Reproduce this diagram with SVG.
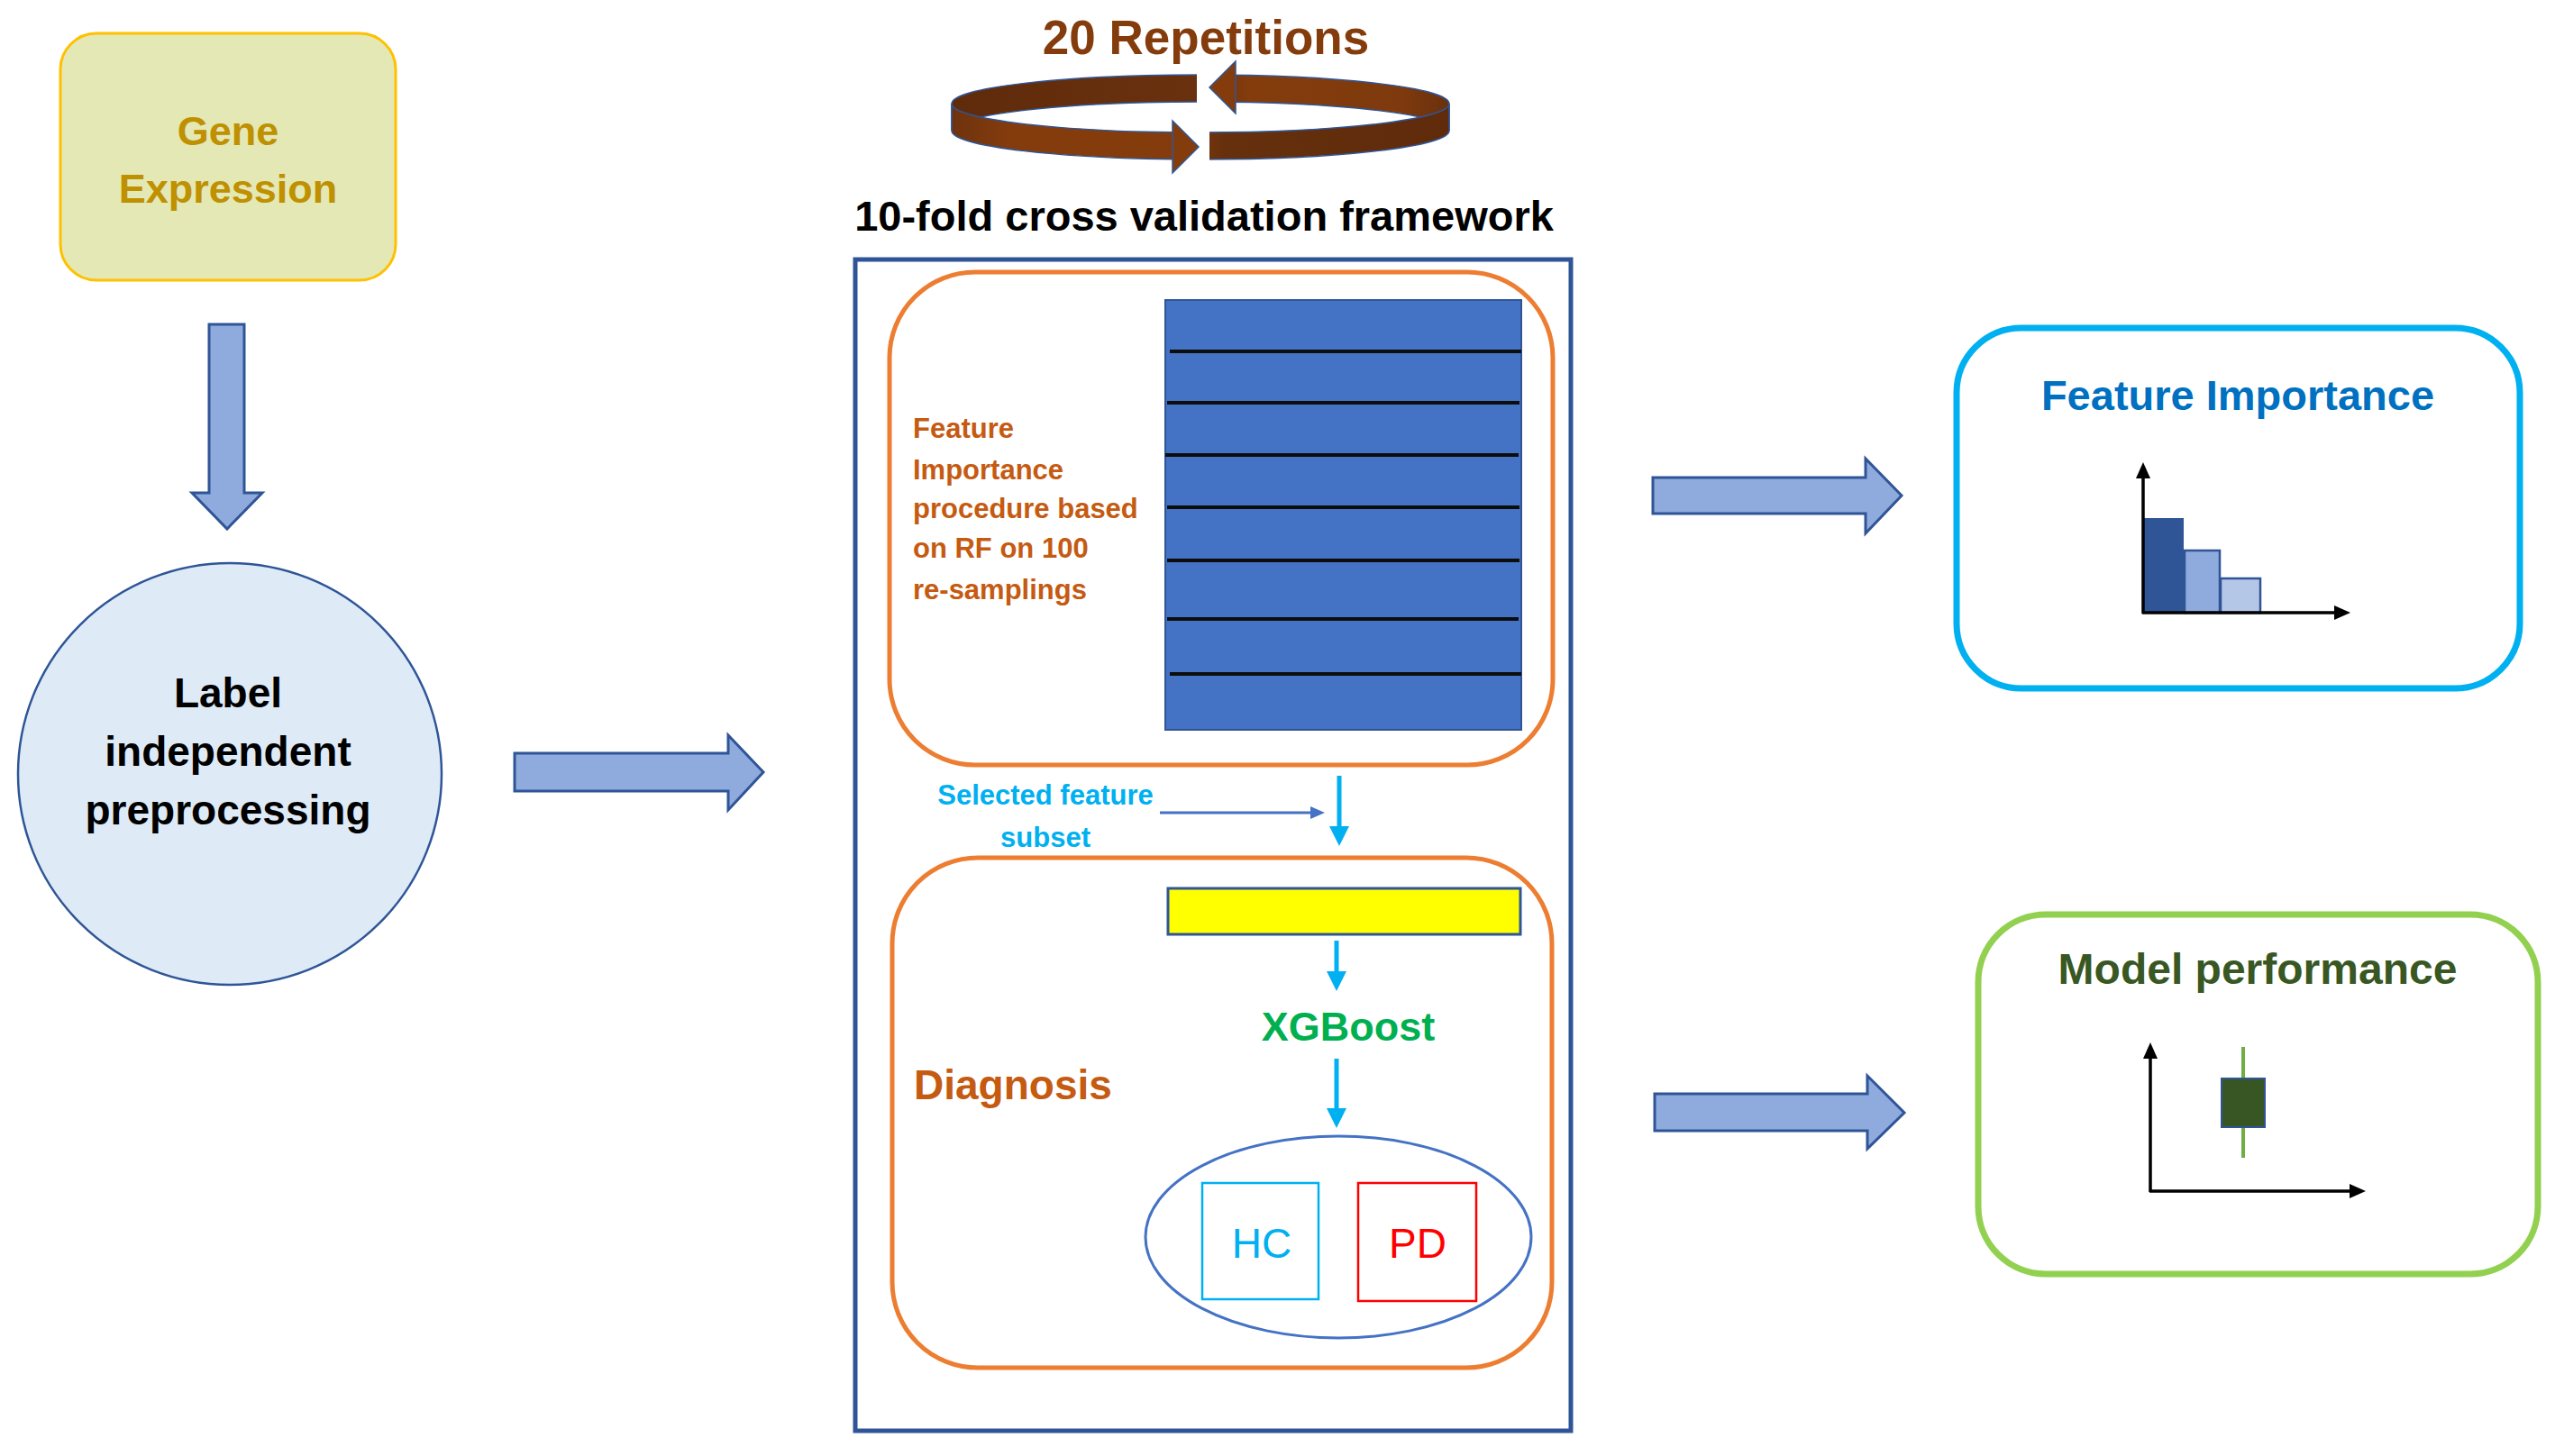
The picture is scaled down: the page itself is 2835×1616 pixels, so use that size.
<svg xmlns="http://www.w3.org/2000/svg" width="2835" height="1616" viewBox="0 0 2835 1616">
<style>
text{font-family:"Liberation Sans",Arial,sans-serif;font-weight:bold;}
.reg{font-weight:normal;}
.block{fill:#8FAADC;stroke:#2F5597;stroke-width:3;stroke-linejoin:miter;}
.cyan{stroke:#00B0F0;stroke-width:5;fill:none;}
.axis{stroke:#000;stroke-width:3.5;fill:none;}
.orange{fill:none;stroke:#ED7D31;stroke-width:5;}
.sep{stroke:#0D0D0D;stroke-width:4;}
.ring{stroke:#2F5597;stroke-width:1.5;}
</style>
<defs>
<marker id="mCyan" markerUnits="userSpaceOnUse" markerWidth="22" markerHeight="22" viewBox="0 0 22 22" refX="6" refY="11" orient="auto"><path d="M0,0 L22,11 L0,22 Z" fill="#00B0F0"/></marker>
<marker id="mBlue" markerUnits="userSpaceOnUse" markerWidth="16" markerHeight="14" viewBox="0 0 16 14" refX="4" refY="7" orient="auto"><path d="M0,0 L16,7 L0,14 Z" fill="#4472C4"/></marker>
<marker id="mBlack" markerUnits="userSpaceOnUse" markerWidth="18" markerHeight="16" viewBox="0 0 18 16" refX="4" refY="8" orient="auto"><path d="M0,0 L18,8 L0,16 Z" fill="#000"/></marker>
<linearGradient id="gBack" x1="1056" y1="0" x2="1608" y2="0" gradientUnits="userSpaceOnUse"><stop offset="0" stop-color="#5F2B0B"/><stop offset="0.5" stop-color="#6A310E"/><stop offset="0.6" stop-color="#843C0C"/><stop offset="0.9" stop-color="#7E3A0D"/><stop offset="1" stop-color="#6A310E"/></linearGradient>
<linearGradient id="gFront" x1="1056" y1="0" x2="1608" y2="0" gradientUnits="userSpaceOnUse"><stop offset="0" stop-color="#6E330E"/><stop offset="0.12" stop-color="#843C0C"/><stop offset="0.45" stop-color="#843C0C"/><stop offset="0.55" stop-color="#66300D"/><stop offset="1" stop-color="#5F2B0B"/></linearGradient>
<clipPath id="cBack"><rect x="1000" y="40" width="328" height="180"/><rect x="1371" y="40" width="300" height="180"/></clipPath>
<clipPath id="cFront"><rect x="1000" y="40" width="301" height="180"/><rect x="1342" y="40" width="330" height="180"/></clipPath>
</defs>
<rect width="2835" height="1616" fill="#fff"/>

<g id="repetitions">
<text x="1338" y="60" font-size="53" fill="#843C0C" text-anchor="middle">20 Repetitions</text>
<path class="ring" clip-path="url(#cBack)" d="M1056,115 A276,32 0 0 1 1608,115 L1608,145 A276,32 0 0 0 1056,145 Z" fill="url(#gBack)"/>
<path class="ring" clip-path="url(#cFront)" d="M1056,115 A276,32 0 0 0 1608,115 L1608,145 A276,32 0 0 1 1056,145 Z" fill="url(#gFront)"/>
<polygon class="ring" points="1371,68 1342,97 1371,126" fill="#843C0C"/>
<polygon class="ring" points="1301,134 1330,163 1301,192" fill="#843C0C"/>
</g>

<g id="gene-expression">
<rect x="67" y="37" width="372" height="274" rx="40" fill="#E4E8B4" stroke="#FFC000" stroke-width="3"/>
<text x="253" y="161" font-size="45" fill="#BF9000" text-anchor="middle">Gene</text>
<text x="253" y="225" font-size="45" fill="#BF9000" text-anchor="middle">Expression</text>
</g>

<g id="preprocessing">
<ellipse cx="255" cy="859" rx="235" ry="234" fill="#DEEBF7" stroke="#2F5597" stroke-width="2.5"/>
<text x="253" y="785" font-size="46" fill="#000" text-anchor="middle">Label</text>
<text x="253" y="850" font-size="46" fill="#000" text-anchor="middle">independent</text>
<text x="253" y="915" font-size="46" fill="#000" text-anchor="middle">preprocessing</text>
</g>

<g id="cv-framework">
<text x="1336" y="256" font-size="47" fill="#000" text-anchor="middle">10-fold cross validation framework</text>
<rect x="949" y="288" width="794" height="1300" fill="none" stroke="#2F5597" stroke-width="5"/>
</g>

<g id="feature-selection">
<rect class="orange" x="987" y="302" width="736" height="547" rx="95"/>
<rect x="1293" y="333" width="395" height="477" fill="#4472C4" stroke="#2F5597" stroke-width="2"/>
<line class="sep" x1="1298" y1="390" x2="1688" y2="390"/>
<line class="sep" x1="1295" y1="447" x2="1686" y2="447"/>
<line class="sep" x1="1293" y1="505" x2="1685" y2="505"/>
<line class="sep" x1="1295" y1="563" x2="1686" y2="563"/>
<line class="sep" x1="1295" y1="622" x2="1686" y2="622"/>
<line class="sep" x1="1295" y1="687" x2="1685" y2="687"/>
<line class="sep" x1="1298" y1="748" x2="1688" y2="748"/>
<g font-size="31" fill="#C55A11">
<text x="1013" y="486">Feature</text>
<text x="1013" y="532">Importance</text>
<text x="1013" y="575">procedure based</text>
<text x="1013" y="619">on RF on 100</text>
<text x="1013" y="665">re-samplings</text>
</g>
</g>

<g id="selected-subset">
<text x="1160" y="893" font-size="31" fill="#00B0F0" text-anchor="middle">Selected feature</text>
<text x="1160" y="940" font-size="31" fill="#00B0F0" text-anchor="middle">subset</text>
</g>

<g id="diagnosis">
<rect class="orange" x="990" y="952" width="732" height="566" rx="95"/>
<rect x="1296" y="986" width="391" height="51" fill="#FFFF00" stroke="#2F5597" stroke-width="3"/>
<text x="1496" y="1155" font-size="45" fill="#00B050" text-anchor="middle">XGBoost</text>
<text x="1014" y="1220" font-size="46" fill="#C55A11">Diagnosis</text>
<ellipse cx="1485" cy="1373" rx="214" ry="112" fill="none" stroke="#4472C4" stroke-width="3"/>
</g>

<g id="hc">
<rect x="1334" y="1313" width="129" height="129" fill="none" stroke="#00B0F0" stroke-width="2.5"/>
<text class="reg" x="1400" y="1396" font-size="46" fill="#00B0F0" text-anchor="middle">HC</text>
</g>
<g id="pd">
<rect x="1507" y="1313" width="131" height="131" fill="none" stroke="#FF0000" stroke-width="2.5"/>
<text class="reg" x="1573" y="1396" font-size="46" fill="#FF0000" text-anchor="middle">PD</text>
</g>

<g id="feature-importance-result">
<rect x="2171" y="364" width="625" height="400" rx="72" fill="none" stroke="#00B0F0" stroke-width="7"/>
<text x="2483" y="455" font-size="47" fill="#0070C0" text-anchor="middle">Feature Importance</text>
<rect x="2377" y="575" width="46" height="105" fill="#2F5597"/>
<rect x="2424" y="611" width="39" height="69" fill="#8FAADC" stroke="#2F5597" stroke-width="2.5"/>
<rect x="2464" y="642" width="44" height="38" fill="#B4C7E7" stroke="#2F5597" stroke-width="2.5"/>
<line class="axis" x1="2378" y1="681" x2="2378" y2="527" marker-end="url(#mBlack)"/>
<line class="axis" x1="2377" y1="680" x2="2594" y2="680" marker-end="url(#mBlack)"/>
</g>

<g id="model-performance-result">
<rect x="2195" y="1015" width="621" height="399" rx="75" fill="none" stroke="#92D050" stroke-width="7"/>
<text x="2505" y="1092" font-size="48" fill="#385723" text-anchor="middle">Model performance</text>
<line x1="2489" y1="1162" x2="2489" y2="1285" stroke="#70AD47" stroke-width="4"/>
<rect x="2465" y="1197" width="48" height="54" fill="#375623" stroke="#2F5597" stroke-width="2"/>
<line class="axis" x1="2386" y1="1323" x2="2386" y2="1171" marker-end="url(#mBlack)"/>
<line class="axis" x1="2385" y1="1322" x2="2611" y2="1322" marker-end="url(#mBlack)"/>
</g>

<g id="connectors">
<polygon class="block" points="232,360 271,360 271,547 291,547 252,587 213,547 232,547"/>
<polygon class="block" points="571,836 808,836 808,816 847,857 808,899 808,878 571,878"/>
<polygon class="block" points="1834,530 2070,530 2070,509 2110,550 2070,592 2070,570 1834,570"/>
<polygon class="block" points="1836,1214 2072,1214 2072,1194 2113,1235 2072,1275 2072,1255 1836,1255"/>
<line x1="1287" y1="902" x2="1458" y2="902" stroke="#4472C4" stroke-width="3" marker-end="url(#mBlue)"/>
<line class="cyan" x1="1486" y1="861" x2="1486" y2="923" marker-end="url(#mCyan)"/>
<line class="cyan" x1="1483" y1="1044" x2="1483" y2="1084" marker-end="url(#mCyan)"/>
<line class="cyan" x1="1483" y1="1175" x2="1483" y2="1236" marker-end="url(#mCyan)"/>
</g>
</svg>
